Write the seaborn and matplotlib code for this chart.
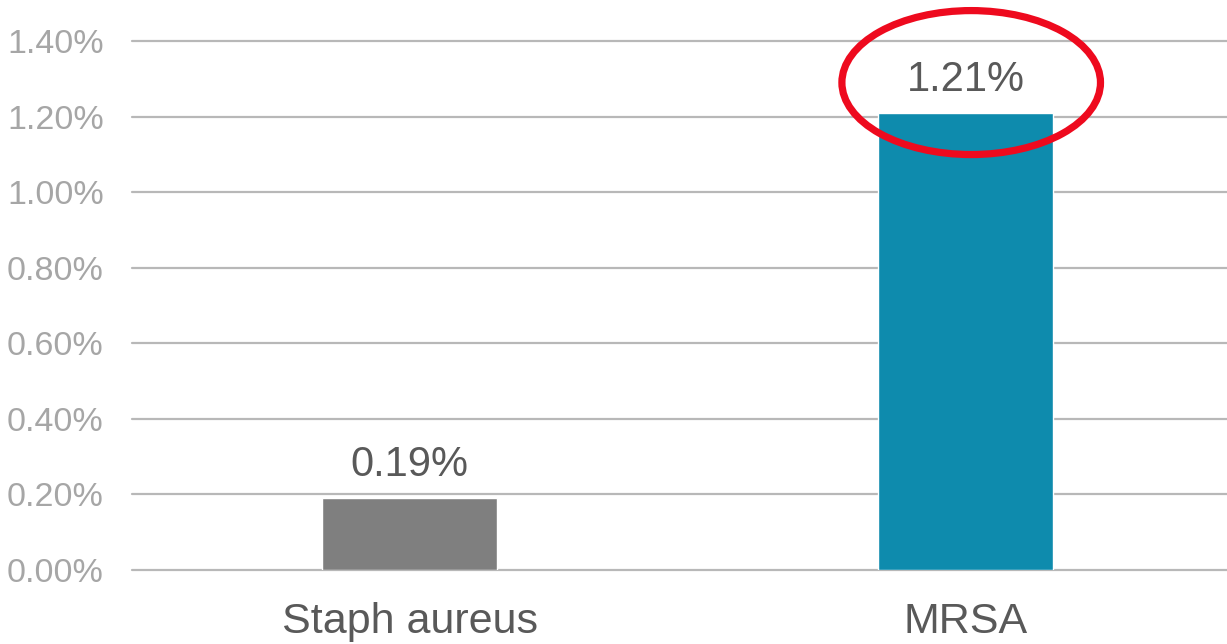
import matplotlib
matplotlib.use("Agg")
import matplotlib.pyplot as plt
import seaborn as sns
import pandas as pd
from matplotlib.patches import Ellipse
from matplotlib.ticker import FuncFormatter, MultipleLocator

categories = ["Staph aureus", "MRSA"]
rates = [0.19, 1.21]  # percent
bar_colors = ["#7F7F7F", "#0E8BAD"]

df = pd.DataFrame({"organism": categories, "rate": rates})

sns.set_theme(style="white")
plt.rcParams["font.family"] = ["Liberation Sans", "DejaVu Sans"]

fig = plt.figure(figsize=(12.27, 6.44), dpi=100)
ax = fig.add_axes([131.5 / 1227, 74 / 644, (1227 - 131.5) / 1227, (570 - 41) / 644])

sns.barplot(data=df, x="organism", y="rate", hue="organism", palette=bar_colors,
            width=0.315, legend=False, ax=ax, saturation=1, zorder=3)

ax.set_xlim(-0.5, 1.47)
ax.set_ylim(0, 1.4)
ax.yaxis.set_major_locator(MultipleLocator(0.2))
ax.yaxis.set_major_formatter(FuncFormatter(lambda v, _: f"{v:.2f}%"))
ax.grid(axis="y", color="#B8B8B8", linewidth=1.6, zorder=0)
for ln in ax.get_ygridlines():
    ln.set_clip_on(False)
for s in ax.spines.values():
    s.set_visible(False)

ax.set_xlabel("")
ax.set_ylabel("")
ax.tick_params(axis="y", length=0, pad=20, labelsize=24.5, labelcolor="#A6A6A6")
ax.tick_params(axis="x", length=0, pad=23, labelsize=31, labelcolor="#595959")

for i, v in enumerate(rates):
    ax.annotate(f"{v:.2f}%", xy=(i, v), xytext=(0, 9.5), textcoords="offset points",
                ha="center", va="bottom", fontsize=30, color="#595959", zorder=5)

# highlight around the MRSA value
ax.add_patch(Ellipse((1.01, 1.29), 0.465, 0.381, fill=False, edgecolor="#EE0A1E",
                     linewidth=5.2, clip_on=False, zorder=6))

fig.savefig("out.png", dpi=100)
